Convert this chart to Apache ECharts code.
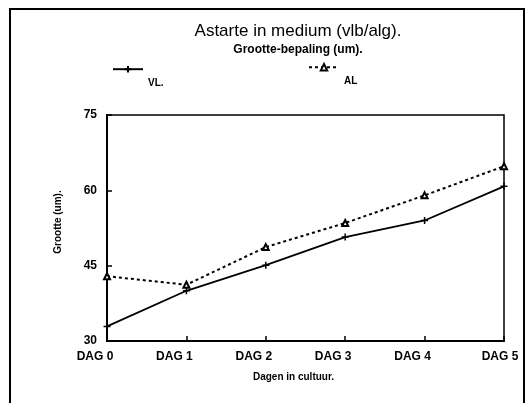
<!DOCTYPE html>
<html>
<head>
<meta charset="utf-8">
<script src="https://cdn.jsdelivr.net/npm/echarts@6/dist/echarts.min.js"></script>
<style>
html, body { margin: 0; padding: 0; background: #fff; }
#chart { width: 529px; height: 403px; }
</style>
</head>
<body>
<div id="chart"></div>
<script>
// data
var days = ['DAG 0', 'DAG 1', 'DAG 2', 'DAG 3', 'DAG 4', 'DAG 5'];
var vl = [32.9, 40.0, 45.1, 50.7, 54.0, 60.8];
var al = [42.9, 41.2, 48.7, 53.5, 59.0, 64.8];
var yTicks = [30, 45, 60, 75];

var myChart = echarts.init(document.getElementById('chart'));
var plusPath = 'path://M0,5L10,5M5,0L5,10';
var font = 'Liberation Sans';

// legend label sits below and right of its icon
var legendText = {
    fontFamily: font, fontSize: 10, fontWeight: 'bold', color: '#000',
    rich: { a: { fontFamily: font, fontSize: 10, fontWeight: 'bold', color: '#000', padding: [28, 0, 0, 0] } }
};

var option = {
    animation: false,
    backgroundColor: '#fff',
    title: {
        text: 'Astarte in medium (vlb/alg).',
        subtext: 'Grootte-bepaling (um).',
        left: 293,
        top: 18,
        textAlign: 'center',
        itemGap: 4,
        textStyle: { fontFamily: font, fontSize: 17, fontWeight: 'normal', color: '#000' },
        subtextStyle: { fontFamily: font, fontSize: 12, fontWeight: 'bold', color: '#000' }
    },
    legend: [
        {
            data: ['VL.'],
            left: 107, top: 60,
            itemWidth: 30, itemHeight: 8,
            formatter: '{a|{name}}',
            textStyle: legendText
        },
        {
            data: ['AL'],
            left: 303, top: 58,
            itemWidth: 30, itemHeight: 8,
            formatter: '{a|{name}}',
            textStyle: legendText
        }
    ],
    graphic: [{
        type: 'rect',
        shape: { x: 10, y: 9, width: 514, height: 420 },
        style: { fill: 'none', stroke: '#000', lineWidth: 2 }
    }],
    grid: { left: 107, right: 25, top: 115, bottom: 62, show: true, borderColor: '#000', borderWidth: 1.5 },
    xAxis: {
        type: 'category',
        data: days,
        boundaryGap: false,
        name: 'Dagen in cultuur.',
        nameLocation: 'middle',
        nameGap: 31,
        nameTextStyle: { fontFamily: font, fontSize: 10, fontWeight: 'bold', color: '#000', padding: [0, 24, 0, 0] },
        axisLine: { lineStyle: { color: '#000', width: 2 } },
        axisTick: { inside: true, length: 5, lineStyle: { color: '#000', width: 1.5 } },
        axisLabel: {
            margin: 10,
            fontFamily: font, fontSize: 12, fontWeight: 'bold', color: '#000',
            formatter: function (v, i) {
                return i === days.length - 1 ? '{e|' + v + '}' : '{a|' + v + '}';
            },
            rich: {
                a: { fontFamily: font, fontSize: 12, fontWeight: 'bold', color: '#000', padding: [0, 24, 0, 0] },
                e: { fontFamily: font, fontSize: 12, fontWeight: 'bold', color: '#000', padding: [0, 8, 0, 0] }
            }
        },
        splitLine: { show: false }
    },
    yAxis: {
        type: 'value',
        min: yTicks[0],
        max: yTicks[yTicks.length - 1],
        interval: yTicks[1] - yTicks[0],
        name: 'Grootte (um).',
        nameLocation: 'middle',
        nameGap: 44,
        nameTextStyle: { fontFamily: font, fontSize: 10, fontWeight: 'bold', color: '#000', padding: [0, 0, 0, 12] },
        axisLine: { show: true, lineStyle: { color: '#000', width: 2 } },
        axisTick: { show: true, inside: true, length: 5, lineStyle: { color: '#000', width: 1.5 } },
        axisLabel: { margin: 10, fontFamily: font, fontSize: 12, fontWeight: 'bold', color: '#000' },
        splitLine: { show: false }
    },
    series: [
        {
            name: 'VL.',
            type: 'line',
            data: vl,
            symbol: plusPath,
            symbolSize: 7,
            itemStyle: { color: '#000', borderColor: '#000', borderWidth: 1.5 },
            lineStyle: { color: '#000', width: 1.8, type: 'solid' }
        },
        {
            name: 'AL',
            type: 'line',
            data: al,
            symbol: 'emptyTriangle',
            symbolSize: 6,
            itemStyle: { color: '#000', borderColor: '#000', borderWidth: 1.5 },
            lineStyle: { color: '#000', width: 2, type: [3, 3] }
        }
    ]
};
myChart.setOption(option);
</script>
</body>
</html>
